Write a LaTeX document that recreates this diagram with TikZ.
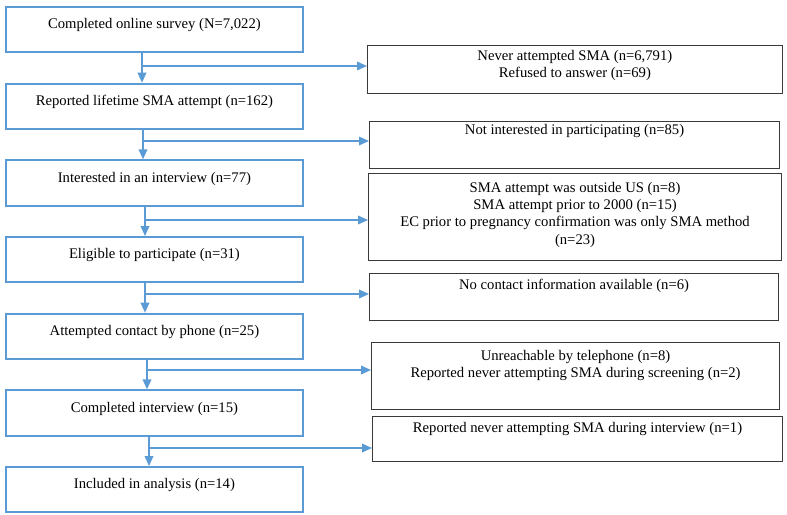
\documentclass[tikz,border=0pt]{standalone}
\usepackage{fontspec}
\setmainfont{Liberation Serif}
\usetikzlibrary{arrows.meta, positioning}
\definecolor{flowblue}{HTML}{5B9BD5}
\definecolor{exclgray}{HTML}{3A3A3A}

\begin{document}
\begin{tikzpicture}[
    x=0.75pt, y=-0.75pt,
    stage/.style={rectangle, draw=flowblue, line width=1.6pt, minimum width=222.5pt, minimum height=34pt, inner sep=0pt},
    excl/.style={rectangle, draw=exclgray, line width=0.8pt, inner sep=0pt, anchor=north west},
    boxtext/.style={inner sep=0pt, align=center, font=\fontsize{11}{12.5}\selectfont},
    arrow/.style={-{Triangle[length=7.5pt, width=6.5pt]}, draw=flowblue, line width=1.1pt},
    node distance=21.9pt
]
    \useasboundingbox (0,0) rectangle (787,514);

    % main flow on the left
    \node[stage, anchor=north west] (survey) at (5,6) {};
    \node[stage, below=of survey] (reported) {};
    \node[stage, below=of reported] (interested) {};
    \node[stage, below=of interested] (eligible) {};
    \node[stage, below=of eligible] (contact) {};
    \node[stage, below=of contact] (interview) {};
    \node[stage, below=of interview] (analysis) {};

    \node[boxtext, below=9.3pt of survey.north] (surveytxt) {Completed online survey (N=7,022)};
    \node[boxtext, below=9.3pt of reported.north] (reportedtxt) {Reported lifetime SMA attempt (n=162)};
    \node[boxtext, below=9.3pt of interested.north] (interestedtxt) {Interested in an interview (n=77)};
    \node[boxtext, below=9.3pt of eligible.north] (eligibletxt) {Eligible to participate (n=31)};
    \node[boxtext, below=9.3pt of contact.north] (contacttxt) {Attempted contact by phone (n=25)};
    \node[boxtext, below=9.3pt of interview.north] (interviewtxt) {Completed interview (n=15)};
    \node[boxtext, below=9.3pt of analysis.north] (analysistxt) {Included in analysis (n=14)};

    % exclusions on the right
    \node[excl, minimum width=311pt, minimum height=36pt] (never) at (367,45) {};
    \node[excl, minimum width=307.5pt, minimum height=35pt] (notint) at (369,121) {};
    \node[excl, minimum width=309.75pt, minimum height=65pt] (inelig) at (368,173) {};
    \node[excl, minimum width=306.75pt, minimum height=35pt] (nocontact) at (369,273) {};
    \node[excl, minimum width=306pt, minimum height=50pt] (unreach) at (371,342) {};
    \node[excl, minimum width=307.5pt, minimum height=34pt] (denied) at (372,416) {};

    \node[boxtext, below=3.8pt of never.north] (nevertxt) {Never attempted SMA (n=6,791)\\Refused to answer (n=69)};
    \node[boxtext, below=2.5pt of notint.north] (notinttxt) {Not interested in participating (n=85)};
    \node[boxtext, below=6.5pt of inelig.north, font=\fontsize{11}{13}\selectfont] (ineligtxt) {SMA attempt was outside US (n=8)\\SMA attempt prior to 2000 (n=15)\\EC prior to pregnancy confirmation was only SMA method\\(n=23)};
    \node[boxtext, below=4.3pt of nocontact.north] (nocontacttxt) {No contact information available (n=6)};
    \node[boxtext, below=6pt of unreach.north] (unreachtxt) {Unreachable by telephone (n=8)\\Reported never attempting SMA during screening (n=2)};
    \node[boxtext, below=4.3pt of denied.north] (deniedtxt) {Reported never attempting SMA during interview (n=1)};

    % junctions where the exclusions branch off
    \coordinate (j1) at (142,66);
    \coordinate (j2) at (143,141);
    \coordinate (j3) at (145,220);
    \coordinate (j4) at (145,294);
    \coordinate (j5) at (147,370);
    \coordinate (j6) at (149,448);

    \draw[arrow] (survey.south -| j1) -- (reported.north -| j1);
    \draw[arrow] (reported.south -| j2) -- (interested.north -| j2);
    \draw[arrow] (interested.south -| j3) -- (eligible.north -| j3);
    \draw[arrow] (eligible.south -| j4) -- (contact.north -| j4);
    \draw[arrow] (contact.south -| j5) -- (interview.north -| j5);
    \draw[arrow] (interview.south -| j6) -- (analysis.north -| j6);

    \draw[arrow] (j1) -- (j1 -| never.west);
    \draw[arrow] (j2) -- (j2 -| notint.west);
    \draw[arrow] (j3) -- (j3 -| inelig.west);
    \draw[arrow] (j4) -- (j4 -| nocontact.west);
    \draw[arrow] (j5) -- (j5 -| unreach.west);
    \draw[arrow] (j6) -- (j6 -| denied.west);
\end{tikzpicture}
\end{document}
